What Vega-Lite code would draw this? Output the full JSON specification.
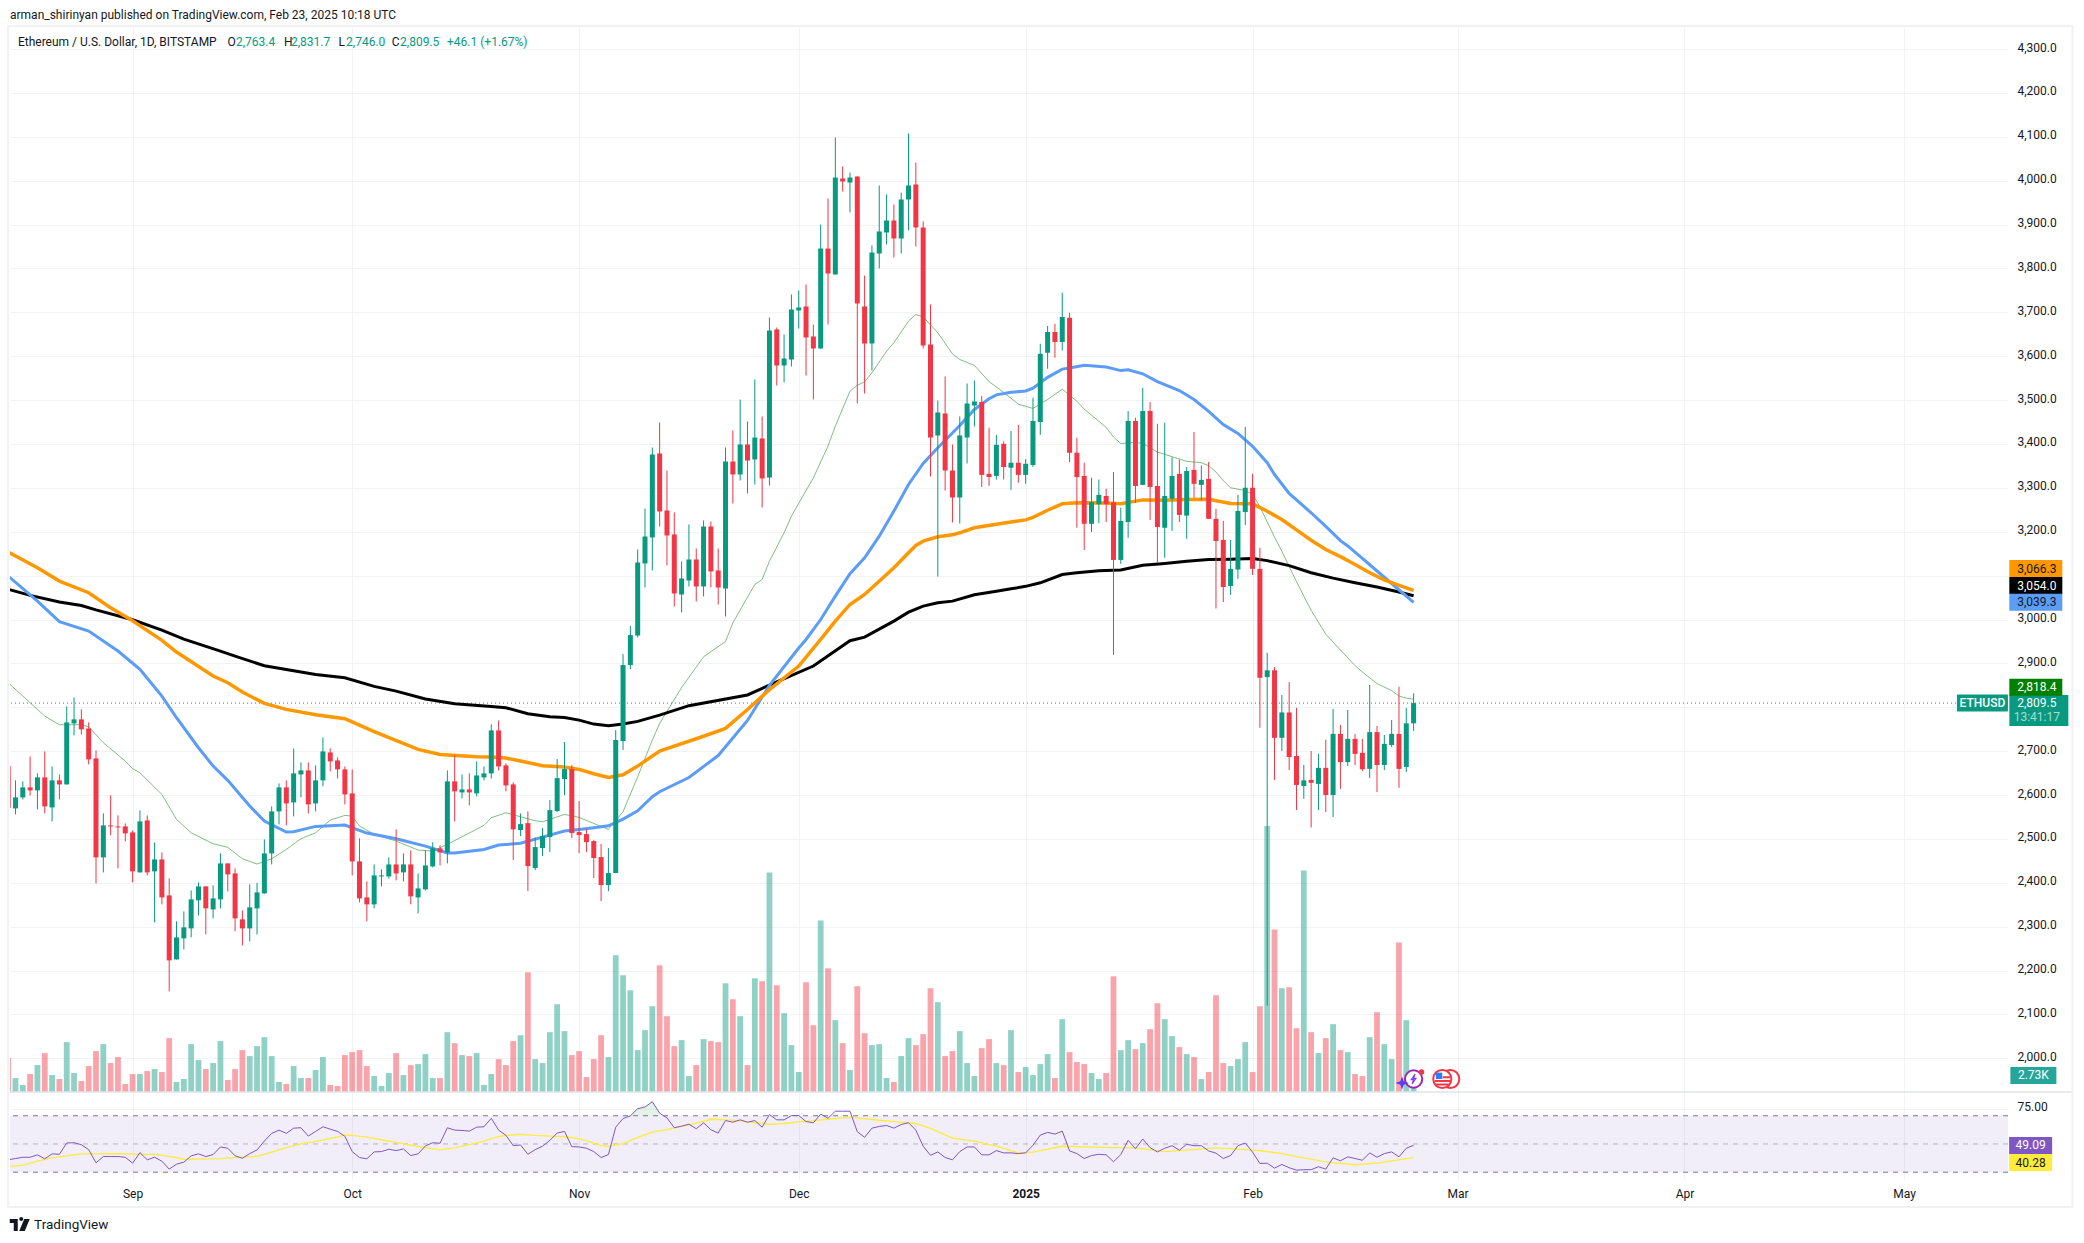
{
"$schema":"https://vega.github.io/schema/vega-lite/v6.json",
"width":1998,"height":1153,
"padding":{"left":10,"top":27,"right":76,"bottom":63},
"autosize":{"type":"none"},
"background":"white",
"config":{"view":{"stroke":null},"font":"Roboto","text":{"font":"Roboto","fontSize":12},"axis":{"labelFont":"Roboto"}},
"datasets":{
"candles":[
{"date":"2024-08-15","o":2666,"h":2680,"l":2520,"c":2571,"v":13566,"rsi":38.8},
{"date":"2024-08-16","o":2569.5,"h":2633.4,"l":2555.9,"c":2594.6,"v":5586,"rsi":39.7},
{"date":"2024-08-17","o":2594.6,"h":2631.1,"l":2590,"c":2617.4,"v":2793,"rsi":40.6},
{"date":"2024-08-18","o":2617.4,"h":2688,"l":2599.2,"c":2610.6,"v":7182,"rsi":40.6},
{"date":"2024-08-19","o":2610.6,"h":2649.3,"l":2567.3,"c":2640.2,"v":10773,"rsi":42.3},
{"date":"2024-08-20","o":2640.2,"h":2699.4,"l":2558.2,"c":2574.1,"v":15561,"rsi":39.5},
{"date":"2024-08-21","o":2571.8,"h":2665.2,"l":2539.9,"c":2633.4,"v":6783,"rsi":43},
{"date":"2024-08-22","o":2633.4,"h":2647,"l":2590,"c":2624.2,"v":5187,"rsi":42.7},
{"date":"2024-08-23","o":2624.2,"h":2802,"l":2624,"c":2765.5,"v":19950,"rsi":50.7},
{"date":"2024-08-24","o":2763.2,"h":2822.5,"l":2735.9,"c":2772.4,"v":7581,"rsi":50.9},
{"date":"2024-08-25","o":2772.4,"h":2795.2,"l":2738.2,"c":2749.6,"v":4389,"rsi":49.5},
{"date":"2024-08-26","o":2751.8,"h":2765.5,"l":2669.8,"c":2681.2,"v":10374,"rsi":46},
{"date":"2024-08-27","o":2683.5,"h":2701.7,"l":2398.6,"c":2457.9,"v":16359,"rsi":36.7},
{"date":"2024-08-28","o":2457.9,"h":2558.2,"l":2423.7,"c":2530.8,"v":19152,"rsi":41.1},
{"date":"2024-08-29","o":2530.8,"h":2599.2,"l":2508,"c":2528.5,"v":11571,"rsi":41.1},
{"date":"2024-08-30","o":2528.5,"h":2553.6,"l":2432.8,"c":2526.2,"v":13965,"rsi":41.1},
{"date":"2024-08-31","o":2528.5,"h":2535.4,"l":2494.4,"c":2512.6,"v":3192,"rsi":40.6},
{"date":"2024-09-01","o":2514.9,"h":2519.4,"l":2400.9,"c":2426,"v":7182,"rsi":36.4},
{"date":"2024-09-02","o":2423.7,"h":2565,"l":2423.7,"c":2539.9,"v":7182,"rsi":43.9},
{"date":"2024-09-03","o":2542.2,"h":2553.6,"l":2416.9,"c":2423.7,"v":8379,"rsi":38.8},
{"date":"2024-09-04","o":2426,"h":2492,"l":2309.7,"c":2453.3,"v":9177,"rsi":40.6},
{"date":"2024-09-05","o":2453.3,"h":2469.3,"l":2350.8,"c":2366.7,"v":7980,"rsi":37.8},
{"date":"2024-09-06","o":2371.3,"h":2410,"l":2152.5,"c":2223.2,"v":21546,"rsi":32.2},
{"date":"2024-09-07","o":2225.4,"h":2312,"l":2225,"c":2275.6,"v":3990,"rsi":35.7},
{"date":"2024-09-08","o":2273.3,"h":2334.8,"l":2248.2,"c":2298.4,"v":5187,"rsi":37.1},
{"date":"2024-09-09","o":2296.1,"h":2382.7,"l":2275.6,"c":2362.2,"v":19152,"rsi":41.6},
{"date":"2024-09-10","o":2359.9,"h":2400.9,"l":2325.7,"c":2391.8,"v":12768,"rsi":43},
{"date":"2024-09-11","o":2391.8,"h":2391.8,"l":2282.4,"c":2341.7,"v":9177,"rsi":41.1},
{"date":"2024-09-12","o":2339.4,"h":2394.1,"l":2318.9,"c":2364.5,"v":11571,"rsi":42.5},
{"date":"2024-09-13","o":2362.2,"h":2467,"l":2341.7,"c":2444.2,"v":20349,"rsi":47.9},
{"date":"2024-09-14","o":2444.2,"h":2444.2,"l":2380.4,"c":2419.2,"v":4788,"rsi":47},
{"date":"2024-09-15","o":2421.4,"h":2432.8,"l":2289.3,"c":2318.9,"v":9177,"rsi":41.6},
{"date":"2024-09-16","o":2316.6,"h":2337.1,"l":2257.3,"c":2296.1,"v":16758,"rsi":39.9},
{"date":"2024-09-17","o":2296.1,"h":2396.4,"l":2266.4,"c":2344,"v":14364,"rsi":43.2},
{"date":"2024-09-18","o":2341.7,"h":2400,"l":2282.4,"c":2378.1,"v":18354,"rsi":45.8},
{"date":"2024-09-19","o":2375.9,"h":2498.9,"l":2375,"c":2467,"v":21945,"rsi":52.1},
{"date":"2024-09-20","o":2467,"h":2574.1,"l":2441.9,"c":2562.7,"v":14364,"rsi":57.5},
{"date":"2024-09-21","o":2562.7,"h":2626.5,"l":2533.1,"c":2617.4,"v":3990,"rsi":59.8},
{"date":"2024-09-22","o":2617.4,"h":2633.4,"l":2530.8,"c":2580.9,"v":3192,"rsi":57.5},
{"date":"2024-09-23","o":2583.2,"h":2706.3,"l":2551.3,"c":2649.3,"v":10374,"rsi":61.2},
{"date":"2024-09-24","o":2647,"h":2674.4,"l":2594.6,"c":2656.1,"v":5586,"rsi":61.5},
{"date":"2024-09-25","o":2656.1,"h":2674.4,"l":2558.2,"c":2578.7,"v":5586,"rsi":55.6},
{"date":"2024-09-26","o":2580.9,"h":2667.5,"l":2562.7,"c":2633.4,"v":8778,"rsi":58.9},
{"date":"2024-09-27","o":2633.4,"h":2731.3,"l":2619.7,"c":2699.4,"v":13965,"rsi":62.2},
{"date":"2024-09-28","o":2697.1,"h":2706.3,"l":2653.9,"c":2676.7,"v":2793,"rsi":60.5},
{"date":"2024-09-29","o":2678.9,"h":2685.8,"l":2637.9,"c":2658.4,"v":2394,"rsi":58.9},
{"date":"2024-09-30","o":2658.4,"h":2665.2,"l":2578.7,"c":2601.4,"v":14763,"rsi":55.4},
{"date":"2024-10-01","o":2603.7,"h":2658.4,"l":2416.9,"c":2448.8,"v":15960,"rsi":44.6},
{"date":"2024-10-02","o":2448.8,"h":2501.2,"l":2355.3,"c":2364.5,"v":16758,"rsi":40.4},
{"date":"2024-10-03","o":2366.7,"h":2403.2,"l":2312,"c":2350.8,"v":10374,"rsi":39.5},
{"date":"2024-10-04","o":2350.8,"h":2441.9,"l":2341.7,"c":2416.9,"v":6384,"rsi":44.4},
{"date":"2024-10-05","o":2414.6,"h":2430.5,"l":2391.8,"c":2416.9,"v":2394,"rsi":44.6},
{"date":"2024-10-06","o":2414.6,"h":2457.9,"l":2410,"c":2441.9,"v":7581,"rsi":46.3},
{"date":"2024-10-07","o":2441.9,"h":2521.7,"l":2405.5,"c":2421.4,"v":15561,"rsi":45.3},
{"date":"2024-10-08","o":2423.7,"h":2467,"l":2403.2,"c":2441.9,"v":6783,"rsi":46.5},
{"date":"2024-10-09","o":2441.9,"h":2473.8,"l":2350.8,"c":2369,"v":10773,"rsi":41.8},
{"date":"2024-10-10","o":2366.7,"h":2421.4,"l":2330.3,"c":2387.2,"v":11172,"rsi":43},
{"date":"2024-10-11","o":2385,"h":2473.8,"l":2382.7,"c":2439.6,"v":15162,"rsi":48.6},
{"date":"2024-10-12","o":2437.4,"h":2492,"l":2435.1,"c":2478.4,"v":5586,"rsi":50.9},
{"date":"2024-10-13","o":2478.4,"h":2485.2,"l":2439.6,"c":2469.3,"v":5586,"rsi":50.5},
{"date":"2024-10-14","o":2469.3,"h":2656.1,"l":2444.2,"c":2631.1,"v":23940,"rsi":61.5},
{"date":"2024-10-15","o":2631.1,"h":2690.3,"l":2539.9,"c":2608.3,"v":19551,"rsi":59.8},
{"date":"2024-10-16","o":2606,"h":2647,"l":2592.3,"c":2612.8,"v":14763,"rsi":59.6},
{"date":"2024-10-17","o":2612.8,"h":2649.3,"l":2576.4,"c":2606,"v":14364,"rsi":59.1},
{"date":"2024-10-18","o":2603.7,"h":2676.7,"l":2596.9,"c":2644.7,"v":15561,"rsi":61.9},
{"date":"2024-10-19","o":2640.2,"h":2665.2,"l":2633.4,"c":2649.3,"v":2793,"rsi":62.2},
{"date":"2024-10-20","o":2649.3,"h":2761,"l":2637.9,"c":2747.3,"v":7182,"rsi":68.2},
{"date":"2024-10-21","o":2747.3,"h":2770,"l":2656.1,"c":2665.2,"v":13167,"rsi":59.8},
{"date":"2024-10-22","o":2667.5,"h":2672.1,"l":2608.3,"c":2621.9,"v":10773,"rsi":56.1},
{"date":"2024-10-23","o":2624.2,"h":2628.8,"l":2452,"c":2521.7,"v":20349,"rsi":48.8},
{"date":"2024-10-24","o":2520.2,"h":2558.1,"l":2506.5,"c":2533.8,"v":22743,"rsi":49.3},
{"date":"2024-10-25","o":2536.1,"h":2562.7,"l":2381.1,"c":2438.1,"v":47880,"rsi":42.7},
{"date":"2024-10-26","o":2433.6,"h":2503.4,"l":2429,"c":2481.4,"v":13167,"rsi":46},
{"date":"2024-10-27","o":2479.1,"h":2524.7,"l":2460.9,"c":2506.5,"v":11571,"rsi":48.4},
{"date":"2024-10-28","o":2504.2,"h":2588.5,"l":2470,"c":2565.7,"v":23940,"rsi":52.6},
{"date":"2024-10-29","o":2563.4,"h":2681.9,"l":2561.2,"c":2638.6,"v":35112,"rsi":57.7},
{"date":"2024-10-30","o":2636.4,"h":2720.7,"l":2599.9,"c":2659.2,"v":24339,"rsi":58.9},
{"date":"2024-10-31","o":2659.2,"h":2668.3,"l":2501.9,"c":2513.3,"v":14763,"rsi":48.1},
{"date":"2024-11-01","o":2515.6,"h":2586.2,"l":2467.7,"c":2508.8,"v":16359,"rsi":47.9},
{"date":"2024-11-02","o":2511,"h":2522.4,"l":2470,"c":2492.8,"v":5985,"rsi":47},
{"date":"2024-11-03","o":2495,"h":2497.4,"l":2410.8,"c":2456.4,"v":13167,"rsi":44.6},
{"date":"2024-11-04","o":2458.6,"h":2488.3,"l":2358.4,"c":2394.8,"v":22743,"rsi":40.4},
{"date":"2024-11-05","o":2394.8,"h":2479.1,"l":2381.1,"c":2422.2,"v":13965,"rsi":42.5},
{"date":"2024-11-06","o":2422.2,"h":2748,"l":2422,"c":2725.2,"v":54663,"rsi":61.9},
{"date":"2024-11-07","o":2723,"h":2921.2,"l":2702.5,"c":2896.2,"v":46683,"rsi":68},
{"date":"2024-11-08","o":2896.2,"h":2985,"l":2887,"c":2964.5,"v":40698,"rsi":69.9},
{"date":"2024-11-09","o":2963.6,"h":3159.6,"l":2959,"c":3130,"v":16758,"rsi":75},
{"date":"2024-11-10","o":3127.7,"h":3253,"l":3073,"c":3189.2,"v":24738,"rsi":76.2},
{"date":"2024-11-11","o":3187,"h":3392,"l":3111.8,"c":3376.1,"v":34314,"rsi":79.9},
{"date":"2024-11-12","o":3378.4,"h":3449,"l":3212,"c":3246.2,"v":50673,"rsi":71.8},
{"date":"2024-11-13","o":3248.5,"h":3339.6,"l":3123.1,"c":3191.5,"v":30324,"rsi":68.5},
{"date":"2024-11-14","o":3193.8,"h":3244,"l":3029.7,"c":3059.3,"v":18354,"rsi":61.5},
{"date":"2024-11-15","o":3057,"h":3132.3,"l":3016,"c":3093.5,"v":20748,"rsi":62.6},
{"date":"2024-11-16","o":3089,"h":3216.6,"l":3075.3,"c":3136.8,"v":6384,"rsi":64},
{"date":"2024-11-17","o":3136.8,"h":3161.9,"l":3041.1,"c":3075.3,"v":10773,"rsi":60.8},
{"date":"2024-11-18","o":3075.3,"h":3225.7,"l":3052.5,"c":3212,"v":21147,"rsi":65},
{"date":"2024-11-19","o":3212,"h":3223.4,"l":3073,"c":3109.5,"v":20349,"rsi":60.1},
{"date":"2024-11-20","o":3111.8,"h":3161.9,"l":3034.3,"c":3073,"v":19950,"rsi":57.7},
{"date":"2024-11-21","o":3070.7,"h":3392,"l":3007,"c":3360.1,"v":43491,"rsi":66.6},
{"date":"2024-11-22","o":3360.1,"h":3430.8,"l":3264.4,"c":3330.5,"v":37107,"rsi":65.4},
{"date":"2024-11-23","o":3330.5,"h":3501.4,"l":3316.8,"c":3398.9,"v":30324,"rsi":67.1},
{"date":"2024-11-24","o":3398.9,"h":3451.3,"l":3287.2,"c":3362.4,"v":10773,"rsi":65.4},
{"date":"2024-11-25","o":3364.7,"h":3547,"l":3307.7,"c":3414.8,"v":45486,"rsi":66.6},
{"date":"2024-11-26","o":3412.6,"h":3462.7,"l":3255.3,"c":3321.4,"v":44289,"rsi":61.9},
{"date":"2024-11-27","o":3323.7,"h":3688.3,"l":3305.5,"c":3658.7,"v":87780,"rsi":70.8},
{"date":"2024-11-28","o":3661,"h":3665.5,"l":3533.3,"c":3578.9,"v":42693,"rsi":67.1},
{"date":"2024-11-29","o":3578.9,"h":3649.6,"l":3540.2,"c":3594.9,"v":31521,"rsi":67.1},
{"date":"2024-11-30","o":3592.6,"h":3740.7,"l":3576.6,"c":3706.5,"v":18753,"rsi":70.1},
{"date":"2024-12-01","o":3704.3,"h":3749.8,"l":3663.2,"c":3711.1,"v":7980,"rsi":70.1},
{"date":"2024-12-02","o":3713.4,"h":3763.5,"l":3556.1,"c":3642.7,"v":43890,"rsi":65.9},
{"date":"2024-12-03","o":3645,"h":3672.3,"l":3501.4,"c":3617.7,"v":26733,"rsi":65},
{"date":"2024-12-04","o":3617.7,"h":3900.2,"l":3617,"c":3845.5,"v":68628,"rsi":71.1},
{"date":"2024-12-05","o":3845.5,"h":3959.5,"l":3672.3,"c":3788.6,"v":49476,"rsi":68.2},
{"date":"2024-12-06","o":3786.3,"h":4098.5,"l":3786,"c":4007.3,"v":28728,"rsi":73.2},
{"date":"2024-12-07","o":4005,"h":4032.4,"l":3975.4,"c":3998.2,"v":19551,"rsi":73.2},
{"date":"2024-12-08","o":3995.9,"h":4018.7,"l":3927.6,"c":4007.3,"v":8778,"rsi":73.2},
{"date":"2024-12-09","o":4009.6,"h":4010,"l":3492.3,"c":3720.2,"v":42294,"rsi":58.7},
{"date":"2024-12-10","o":3713.4,"h":3784,"l":3515.1,"c":3629,"v":23541,"rsi":54.7},
{"date":"2024-12-11","o":3629,"h":3852.4,"l":3567.5,"c":3836.4,"v":18753,"rsi":61.2},
{"date":"2024-12-12","o":3834.1,"h":3989.1,"l":3800,"c":3884.3,"v":19152,"rsi":62.4},
{"date":"2024-12-13","o":3882,"h":3968.6,"l":3854.7,"c":3909.3,"v":5586,"rsi":63.1},
{"date":"2024-12-14","o":3909.3,"h":3945.8,"l":3825,"c":3868.3,"v":3990,"rsi":61.2},
{"date":"2024-12-15","o":3868.3,"h":3973.1,"l":3834.1,"c":3957.2,"v":14364,"rsi":63.8},
{"date":"2024-12-16","o":3957.2,"h":4107.6,"l":3886.6,"c":3989.1,"v":21546,"rsi":65},
{"date":"2024-12-17","o":3991.4,"h":4041.5,"l":3850.1,"c":3893.4,"v":18753,"rsi":59.8},
{"date":"2024-12-18","o":3893.4,"h":3907.1,"l":3617.7,"c":3624.5,"v":23142,"rsi":48.4},
{"date":"2024-12-19","o":3626.8,"h":3717.9,"l":3326,"c":3414.8,"v":41496,"rsi":42},
{"date":"2024-12-20","o":3419.4,"h":3499.2,"l":3098,"c":3471.8,"v":35910,"rsi":44.4},
{"date":"2024-12-21","o":3469.5,"h":3553.9,"l":3294,"c":3339.6,"v":14364,"rsi":40.4},
{"date":"2024-12-22","o":3339.6,"h":3398.9,"l":3221.2,"c":3278.1,"v":16359,"rsi":38.8},
{"date":"2024-12-23","o":3278.1,"h":3462.7,"l":3218.9,"c":3419.4,"v":24339,"rsi":44.6},
{"date":"2024-12-24","o":3414.8,"h":3537.9,"l":3355.6,"c":3492.3,"v":11571,"rsi":47.9},
{"date":"2024-12-25","o":3487.8,"h":3544.7,"l":3439.9,"c":3496.9,"v":6384,"rsi":47.9},
{"date":"2024-12-26","o":3495.7,"h":3509.5,"l":3301.9,"c":3329.6,"v":17556,"rsi":42.3},
{"date":"2024-12-27","o":3332,"h":3437,"l":3304.4,"c":3324.7,"v":21147,"rsi":42.3},
{"date":"2024-12-28","o":3327.2,"h":3420.8,"l":3319,"c":3398,"v":11571,"rsi":45.3},
{"date":"2024-12-29","o":3400.4,"h":3406.1,"l":3319,"c":3347.5,"v":10773,"rsi":43.7},
{"date":"2024-12-30","o":3345.9,"h":3429.7,"l":3295.4,"c":3357.3,"v":24738,"rsi":43.7},
{"date":"2024-12-31","o":3357.3,"h":3443.6,"l":3311.7,"c":3329.6,"v":7980,"rsi":43.2},
{"date":"2025-01-01","o":3329.6,"h":3365.4,"l":3309.2,"c":3354.8,"v":9975,"rsi":43.7},
{"date":"2025-01-02","o":3352.4,"h":3505.4,"l":3347.5,"c":3452.5,"v":6783,"rsi":49.1},
{"date":"2025-01-03","o":3450.1,"h":3628.4,"l":3420.8,"c":3605.6,"v":11172,"rsi":56.3},
{"date":"2025-01-04","o":3608,"h":3669,"l":3571.4,"c":3655.2,"v":15162,"rsi":58.2},
{"date":"2025-01-05","o":3655.2,"h":3674,"l":3596.6,"c":3632.4,"v":5586,"rsi":57},
{"date":"2025-01-06","o":3632.4,"h":3744.8,"l":3612.9,"c":3689.4,"v":29127,"rsi":59.1},
{"date":"2025-01-07","o":3687.8,"h":3699.2,"l":3358.9,"c":3380.1,"v":15960,"rsi":45.1},
{"date":"2025-01-08","o":3380.1,"h":3414.3,"l":3209.1,"c":3324.7,"v":11970,"rsi":43.2},
{"date":"2025-01-09","o":3327.2,"h":3357.3,"l":3158.6,"c":3218.1,"v":11172,"rsi":39.7},
{"date":"2025-01-10","o":3218.1,"h":3323.1,"l":3199.3,"c":3267.7,"v":7581,"rsi":41.8},
{"date":"2025-01-11","o":3262.8,"h":3319,"l":3219.7,"c":3284,"v":5187,"rsi":42.7},
{"date":"2025-01-12","o":3281.6,"h":3297.9,"l":3222.1,"c":3262.8,"v":7581,"rsi":42.3},
{"date":"2025-01-13","o":3266.9,"h":3336.1,"l":2919.3,"c":3135.8,"v":46284,"rsi":37.4},
{"date":"2025-01-14","o":3135.8,"h":3254.7,"l":3126.9,"c":3224.6,"v":16758,"rsi":42.5},
{"date":"2025-01-15","o":3222.1,"h":3475.3,"l":3186.3,"c":3452.5,"v":20748,"rsi":52.6},
{"date":"2025-01-16","o":3452.5,"h":3459.9,"l":3266.1,"c":3304.4,"v":17157,"rsi":46.7},
{"date":"2025-01-17","o":3306.8,"h":3528.2,"l":3306,"c":3475.3,"v":19551,"rsi":53.5},
{"date":"2025-01-18","o":3475.3,"h":3495.7,"l":3227,"c":3301.9,"v":25137,"rsi":47.4},
{"date":"2025-01-19","o":3304.4,"h":3446,"l":3128.5,"c":3210.7,"v":35511,"rsi":44.4},
{"date":"2025-01-20","o":3209.1,"h":3448.5,"l":3140.7,"c":3281.6,"v":29127,"rsi":47},
{"date":"2025-01-21","o":3275.1,"h":3369.5,"l":3201.8,"c":3327.2,"v":22344,"rsi":48.8},
{"date":"2025-01-22","o":3332,"h":3364.6,"l":3222.1,"c":3238.4,"v":17955,"rsi":45.6},
{"date":"2025-01-23","o":3236.8,"h":3347.5,"l":3183.9,"c":3338.5,"v":15162,"rsi":49.8},
{"date":"2025-01-24","o":3341,"h":3427.3,"l":3277.5,"c":3309.2,"v":13965,"rsi":48.8},
{"date":"2025-01-25","o":3306.8,"h":3350.8,"l":3271,"c":3318.2,"v":5187,"rsi":48.8},
{"date":"2025-01-26","o":3320.6,"h":3358.9,"l":3229.5,"c":3229.5,"v":7980,"rsi":45.1},
{"date":"2025-01-27","o":3229.5,"h":3252.3,"l":3025.1,"c":3179,"v":38703,"rsi":43.5},
{"date":"2025-01-28","o":3181.4,"h":3224.6,"l":3039.8,"c":3074,"v":11571,"rsi":39.7},
{"date":"2025-01-29","o":3076.4,"h":3181.4,"l":3056,"c":3115.5,"v":10374,"rsi":41.8},
{"date":"2025-01-30","o":3113.9,"h":3284,"l":3092.7,"c":3247.4,"v":13167,"rsi":48.8},
{"date":"2025-01-31","o":3244.9,"h":3438.7,"l":3215.6,"c":3300.3,"v":19950,"rsi":50.7},
{"date":"2025-02-01","o":3300.3,"h":3332,"l":3101.6,"c":3115.5,"v":7980,"rsi":44.2},
{"date":"2025-02-02","o":3115.5,"h":3163.5,"l":2753.2,"c":2867.2,"v":34314,"rsi":36.2},
{"date":"2025-02-03","o":2868.8,"h":2924.2,"l":2120,"c":2884.3,"v":106400,"rsi":36.4},
{"date":"2025-02-04","o":2884.3,"h":2891.6,"l":2634.4,"c":2730.4,"v":65037,"rsi":32.9},
{"date":"2025-02-05","o":2730.4,"h":2828.1,"l":2700.3,"c":2788.2,"v":41496,"rsi":35.5},
{"date":"2025-02-06","o":2788.2,"h":2857.4,"l":2657,"c":2686.4,"v":41895,"rsi":33.2},
{"date":"2025-02-07","o":2688.9,"h":2798.8,"l":2565.9,"c":2623,"v":25536,"rsi":31.5},
{"date":"2025-02-08","o":2620.5,"h":2668.5,"l":2591.2,"c":2633.5,"v":88578,"rsi":31.8},
{"date":"2025-02-09","o":2634.4,"h":2700.3,"l":2526.1,"c":2627.9,"v":23940,"rsi":31.8},
{"date":"2025-02-10","o":2625.4,"h":2693.8,"l":2565.9,"c":2662,"v":15561,"rsi":33.9},
{"date":"2025-02-11","o":2662,"h":2726.3,"l":2561,"c":2600.1,"v":21546,"rsi":32.2},
{"date":"2025-02-12","o":2600.1,"h":2796.4,"l":2549.7,"c":2739.4,"v":27132,"rsi":40.2},
{"date":"2025-02-13","o":2739.4,"h":2759.7,"l":2614,"c":2675,"v":16758,"rsi":38.1},
{"date":"2025-02-14","o":2675,"h":2793.9,"l":2666.1,"c":2728,"v":15960,"rsi":40.9},
{"date":"2025-02-15","o":2728,"h":2739.4,"l":2668.5,"c":2693.8,"v":7182,"rsi":39.7},
{"date":"2025-02-16","o":2696.2,"h":2728,"l":2654.7,"c":2658.8,"v":6384,"rsi":38.5},
{"date":"2025-02-17","o":2659.6,"h":2850.9,"l":2639.2,"c":2743.4,"v":21945,"rsi":43.7},
{"date":"2025-02-18","o":2743.4,"h":2757.3,"l":2606.7,"c":2668.5,"v":31920,"rsi":40.6},
{"date":"2025-02-19","o":2668.5,"h":2736.9,"l":2657,"c":2716.6,"v":19152,"rsi":43.2},
{"date":"2025-02-20","o":2714.1,"h":2771.1,"l":2709.2,"c":2739.4,"v":13167,"rsi":44.4},
{"date":"2025-02-21","o":2739.4,"h":2846.8,"l":2616.4,"c":2659.6,"v":59850,"rsi":40.9},
{"date":"2025-02-22","o":2664,"h":2798.8,"l":2652.3,"c":2763.4,"v":28728,"rsi":47},
{"date":"2025-02-23","o":2763.4,"h":2831.7,"l":2746,"c":2809.5,"v":2730,"rsi":49.09}
],
"ema":[
{"series":"EMA 20","date":"2024-08-15","price":2856},{"series":"EMA 20","date":"2024-08-18","price":2810.3},{"series":"EMA 20","date":"2024-08-20","price":2780},{"series":"EMA 20","date":"2024-08-22","price":2760.2},{"series":"EMA 20","date":"2024-08-25","price":2760.2},{"series":"EMA 20","date":"2024-08-26","price":2755.6},{"series":"EMA 20","date":"2024-08-28","price":2719.2},{"series":"EMA 20","date":"2024-08-31","price":2677.4},{"series":"EMA 20","date":"2024-09-01","price":2660},{"series":"EMA 20","date":"2024-09-02","price":2650.8},{"series":"EMA 20","date":"2024-09-05","price":2601.4},{"series":"EMA 20","date":"2024-09-07","price":2544.5},{"series":"EMA 20","date":"2024-09-09","price":2514},{"series":"EMA 20","date":"2024-09-12","price":2489},{"series":"EMA 20","date":"2024-09-14","price":2480.7},{"series":"EMA 20","date":"2024-09-16","price":2454.8},{"series":"EMA 20","date":"2024-09-18","price":2442.7},{"series":"EMA 20","date":"2024-09-20","price":2454.8},{"series":"EMA 20","date":"2024-09-22","price":2476.1},{"series":"EMA 20","date":"2024-09-24","price":2500.4},{"series":"EMA 20","date":"2024-09-26","price":2514},{"series":"EMA 20","date":"2024-09-28","price":2543},{"series":"EMA 20","date":"2024-09-30","price":2553.6},{"series":"EMA 20","date":"2024-10-01","price":2552},{"series":"EMA 20","date":"2024-10-02","price":2529.3},{"series":"EMA 20","date":"2024-10-04","price":2510.3},{"series":"EMA 20","date":"2024-10-07","price":2495.1},{"series":"EMA 20","date":"2024-10-10","price":2474.6},{"series":"EMA 20","date":"2024-10-12","price":2472.3},{"series":"EMA 20","date":"2024-10-14","price":2487.5},{"series":"EMA 20","date":"2024-10-19","price":2530.8},{"series":"EMA 20","date":"2024-10-20","price":2548.3},{"series":"EMA 20","date":"2024-10-22","price":2559.7},{"series":"EMA 20","date":"2024-10-24","price":2550.5},{"series":"EMA 20","date":"2024-10-26","price":2541.4},{"series":"EMA 20","date":"2024-10-27","price":2539.2},{"series":"EMA 20","date":"2024-10-28","price":2544.5},{"series":"EMA 20","date":"2024-10-30","price":2555.9},{"series":"EMA 20","date":"2024-11-01","price":2549},{"series":"EMA 20","date":"2024-11-03","price":2535.3},{"series":"EMA 20","date":"2024-11-05","price":2521.7},{"series":"EMA 20","date":"2024-11-07","price":2562},{"series":"EMA 20","date":"2024-11-09","price":2641.7},{"series":"EMA 20","date":"2024-11-11","price":2725.2},{"series":"EMA 20","date":"2024-11-12","price":2763.2},{"series":"EMA 20","date":"2024-11-15","price":2845},{"series":"EMA 20","date":"2024-11-18","price":2915},{"series":"EMA 20","date":"2024-11-21","price":2950},{"series":"EMA 20","date":"2024-11-22","price":2992.5},{"series":"EMA 20","date":"2024-11-25","price":3079.8},{"series":"EMA 20","date":"2024-11-26","price":3091.3},{"series":"EMA 20","date":"2024-11-27","price":3133},{"series":"EMA 20","date":"2024-11-29","price":3197.6},{"series":"EMA 20","date":"2024-11-30","price":3235.5},{"series":"EMA 20","date":"2024-12-03","price":3322.9},{"series":"EMA 20","date":"2024-12-05","price":3395.1},{"series":"EMA 20","date":"2024-12-06","price":3440.7},{"series":"EMA 20","date":"2024-12-08","price":3520.4},{"series":"EMA 20","date":"2024-12-09","price":3534},{"series":"EMA 20","date":"2024-12-10","price":3541.7},{"series":"EMA 20","date":"2024-12-11","price":3562.2},{"series":"EMA 20","date":"2024-12-13","price":3611.6},{"series":"EMA 20","date":"2024-12-14","price":3630.6},{"series":"EMA 20","date":"2024-12-16","price":3680},{"series":"EMA 20","date":"2024-12-17","price":3695.1},{"series":"EMA 20","date":"2024-12-18","price":3689.8},{"series":"EMA 20","date":"2024-12-20","price":3653.4},{"series":"EMA 20","date":"2024-12-22","price":3605.5},{"series":"EMA 20","date":"2024-12-23","price":3592.6},{"series":"EMA 20","date":"2024-12-25","price":3578.9},{"series":"EMA 20","date":"2024-12-27","price":3542.1},{"series":"EMA 20","date":"2024-12-29","price":3517.7},{"series":"EMA 20","date":"2024-12-31","price":3490.8},{"series":"EMA 20","date":"2025-01-02","price":3481},{"series":"EMA 20","date":"2025-01-04","price":3501.4},{"series":"EMA 20","date":"2025-01-06","price":3525},{"series":"EMA 20","date":"2025-01-08","price":3497.3},{"series":"EMA 20","date":"2025-01-09","price":3479.4},{"series":"EMA 20","date":"2025-01-12","price":3437.9},{"series":"EMA 20","date":"2025-01-13","price":3415.9},{"series":"EMA 20","date":"2025-01-14","price":3401.2},{"series":"EMA 20","date":"2025-01-16","price":3403.7},{"series":"EMA 20","date":"2025-01-17","price":3401.2},{"series":"EMA 20","date":"2025-01-19","price":3381.7},{"series":"EMA 20","date":"2025-01-21","price":3371.1},{"series":"EMA 20","date":"2025-01-23","price":3360.5},{"series":"EMA 20","date":"2025-01-25","price":3357.3},{"series":"EMA 20","date":"2025-01-26","price":3350.8},{"series":"EMA 20","date":"2025-01-27","price":3336.1},{"series":"EMA 20","date":"2025-01-28","price":3316.6},{"series":"EMA 20","date":"2025-01-29","price":3300.3},{"series":"EMA 20","date":"2025-01-31","price":3293.8},{"series":"EMA 20","date":"2025-02-01","price":3285.6},{"series":"EMA 20","date":"2025-02-02","price":3257.1},{"series":"EMA 20","date":"2025-02-04","price":3187.9},{"series":"EMA 20","date":"2025-02-05","price":3155.4},{"series":"EMA 20","date":"2025-02-07","price":3086.2},{"series":"EMA 20","date":"2025-02-09","price":3021},{"series":"EMA 20","date":"2025-02-11","price":2966.5},{"series":"EMA 20","date":"2025-02-13","price":2930.7},{"series":"EMA 20","date":"2025-02-15","price":2894.9},{"series":"EMA 20","date":"2025-02-16","price":2880.2},{"series":"EMA 20","date":"2025-02-18","price":2854.1},{"series":"EMA 20","date":"2025-02-20","price":2837.9},{"series":"EMA 20","date":"2025-02-21","price":2825.7},{"series":"EMA 20","date":"2025-02-22","price":2820.8},{"series":"EMA 20","date":"2025-02-23","price":2818.4},
{"series":"EMA 200","date":"2024-08-15","price":3069},{"series":"EMA 200","date":"2024-08-18","price":3055},{"series":"EMA 200","date":"2024-08-22","price":3040},{"series":"EMA 200","date":"2024-08-25","price":3032},{"series":"EMA 200","date":"2024-08-27","price":3022},{"series":"EMA 200","date":"2024-09-01","price":2999.5},{"series":"EMA 200","date":"2024-09-05","price":2976},{"series":"EMA 200","date":"2024-09-08","price":2955.4},{"series":"EMA 200","date":"2024-09-13","price":2928},{"series":"EMA 200","date":"2024-09-15","price":2916.7},{"series":"EMA 200","date":"2024-09-19","price":2894.7},{"series":"EMA 200","date":"2024-09-23","price":2883.3},{"series":"EMA 200","date":"2024-09-26","price":2874.9},{"series":"EMA 200","date":"2024-09-30","price":2867.3},{"series":"EMA 200","date":"2024-10-04","price":2847.6},{"series":"EMA 200","date":"2024-10-07","price":2836.9},{"series":"EMA 200","date":"2024-10-11","price":2818.7},{"series":"EMA 200","date":"2024-10-15","price":2808},{"series":"EMA 200","date":"2024-10-20","price":2802},{"series":"EMA 200","date":"2024-10-22","price":2799},{"series":"EMA 200","date":"2024-10-25","price":2785.2},{"series":"EMA 200","date":"2024-10-28","price":2778.4},{"series":"EMA 200","date":"2024-10-30","price":2776.9},{"series":"EMA 200","date":"2024-11-01","price":2770.8},{"series":"EMA 200","date":"2024-11-03","price":2761.7},{"series":"EMA 200","date":"2024-11-05","price":2757.9},{"series":"EMA 200","date":"2024-11-07","price":2761.7},{"series":"EMA 200","date":"2024-11-09","price":2767.8},{"series":"EMA 200","date":"2024-11-12","price":2782.2},{"series":"EMA 200","date":"2024-11-16","price":2803.7},{"series":"EMA 200","date":"2024-11-24","price":2828},{"series":"EMA 200","date":"2024-11-28","price":2858},{"series":"EMA 200","date":"2024-12-03","price":2894},{"series":"EMA 200","date":"2024-12-08","price":2951.7},{"series":"EMA 200","date":"2024-12-10","price":2959.8},{"series":"EMA 200","date":"2024-12-14","price":2996.3},{"series":"EMA 200","date":"2024-12-16","price":3016.8},{"series":"EMA 200","date":"2024-12-18","price":3030.5},{"series":"EMA 200","date":"2024-12-20","price":3038},{"series":"EMA 200","date":"2024-12-22","price":3041.9},{"series":"EMA 200","date":"2024-12-25","price":3056.3},{"series":"EMA 200","date":"2024-12-28","price":3064.2},{"series":"EMA 200","date":"2024-12-30","price":3069.9},{"series":"EMA 200","date":"2025-01-01","price":3075.6},{"series":"EMA 200","date":"2025-01-03","price":3083.7},{"series":"EMA 200","date":"2025-01-06","price":3102.5},{"series":"EMA 200","date":"2025-01-08","price":3106.5},{"series":"EMA 200","date":"2025-01-11","price":3111.4},{"series":"EMA 200","date":"2025-01-14","price":3113},{"series":"EMA 200","date":"2025-01-17","price":3123.6},{"series":"EMA 200","date":"2025-01-20","price":3127.7},{"series":"EMA 200","date":"2025-01-23","price":3132.6},{"series":"EMA 200","date":"2025-01-26","price":3136.7},{"series":"EMA 200","date":"2025-01-29","price":3137.5},{"series":"EMA 200","date":"2025-02-01","price":3139.1},{"series":"EMA 200","date":"2025-02-03","price":3134.2},{"series":"EMA 200","date":"2025-02-06","price":3122.8},{"series":"EMA 200","date":"2025-02-09","price":3106.5},{"series":"EMA 200","date":"2025-02-12","price":3094.3},{"series":"EMA 200","date":"2025-02-15","price":3083.7},{"series":"EMA 200","date":"2025-02-18","price":3074},{"series":"EMA 200","date":"2025-02-21","price":3062.6},{"series":"EMA 200","date":"2025-02-23","price":3054},
{"series":"EMA 50","date":"2024-08-15","price":3099},{"series":"EMA 50","date":"2024-08-19","price":3042},{"series":"EMA 50","date":"2024-08-22","price":2995},{"series":"EMA 50","date":"2024-08-26","price":2973.7},{"series":"EMA 50","date":"2024-08-30","price":2928.1},{"series":"EMA 50","date":"2024-09-02","price":2886.3},{"series":"EMA 50","date":"2024-09-05","price":2825.5},{"series":"EMA 50","date":"2024-09-07","price":2776.2},{"series":"EMA 50","date":"2024-09-10","price":2707.8},{"series":"EMA 50","date":"2024-09-12","price":2666},{"series":"EMA 50","date":"2024-09-14","price":2633.4},{"series":"EMA 50","date":"2024-09-17","price":2574.9},{"series":"EMA 50","date":"2024-09-19","price":2540.7},{"series":"EMA 50","date":"2024-09-22","price":2515.6},{"series":"EMA 50","date":"2024-09-23","price":2516.4},{"series":"EMA 50","date":"2024-09-26","price":2528.5},{"series":"EMA 50","date":"2024-09-30","price":2531.6},{"series":"EMA 50","date":"2024-10-03","price":2513.3},{"series":"EMA 50","date":"2024-10-07","price":2500.4},{"series":"EMA 50","date":"2024-10-11","price":2483.7},{"series":"EMA 50","date":"2024-10-14","price":2467.8},{"series":"EMA 50","date":"2024-10-15","price":2467.8},{"series":"EMA 50","date":"2024-10-19","price":2476.1},{"series":"EMA 50","date":"2024-10-21","price":2486},{"series":"EMA 50","date":"2024-10-24","price":2490},{"series":"EMA 50","date":"2024-10-27","price":2504.2},{"series":"EMA 50","date":"2024-10-30","price":2517.9},{"series":"EMA 50","date":"2024-11-01","price":2521.7},{"series":"EMA 50","date":"2024-11-03","price":2525.5},{"series":"EMA 50","date":"2024-11-05","price":2530},{"series":"EMA 50","date":"2024-11-07","price":2545.2},{"series":"EMA 50","date":"2024-11-09","price":2564.2},{"series":"EMA 50","date":"2024-11-11","price":2596.1},{"series":"EMA 50","date":"2024-11-12","price":2607.5},{"series":"EMA 50","date":"2024-11-16","price":2640},{"series":"EMA 50","date":"2024-11-20","price":2690},{"series":"EMA 50","date":"2024-11-24","price":2770},{"series":"EMA 50","date":"2024-11-27","price":2850},{"series":"EMA 50","date":"2024-12-01","price":2935},{"series":"EMA 50","date":"2024-12-02","price":2954.5},{"series":"EMA 50","date":"2024-12-04","price":3000},{"series":"EMA 50","date":"2024-12-06","price":3053.3},{"series":"EMA 50","date":"2024-12-08","price":3104.2},{"series":"EMA 50","date":"2024-12-10","price":3140.6},{"series":"EMA 50","date":"2024-12-12","price":3190},{"series":"EMA 50","date":"2024-12-14","price":3247},{"series":"EMA 50","date":"2024-12-16","price":3307.7},{"series":"EMA 50","date":"2024-12-18","price":3355.6},{"series":"EMA 50","date":"2024-12-20","price":3391.3},{"series":"EMA 50","date":"2024-12-23","price":3442.2},{"series":"EMA 50","date":"2024-12-25","price":3478.7},{"series":"EMA 50","date":"2024-12-27","price":3503},{"series":"EMA 50","date":"2024-12-28","price":3512},{"series":"EMA 50","date":"2024-12-30","price":3517.7},{"series":"EMA 50","date":"2025-01-01","price":3520.9},{"series":"EMA 50","date":"2025-01-02","price":3527.4},{"series":"EMA 50","date":"2025-01-04","price":3551.8},{"series":"EMA 50","date":"2025-01-06","price":3570.6},{"series":"EMA 50","date":"2025-01-07","price":3573},{"series":"EMA 50","date":"2025-01-09","price":3579.5},{"series":"EMA 50","date":"2025-01-12","price":3575.5},{"series":"EMA 50","date":"2025-01-14","price":3567.3},{"series":"EMA 50","date":"2025-01-15","price":3568.9},{"series":"EMA 50","date":"2025-01-17","price":3560},{"series":"EMA 50","date":"2025-01-19","price":3542},{"series":"EMA 50","date":"2025-01-22","price":3521.7},{"series":"EMA 50","date":"2025-01-24","price":3501.4},{"series":"EMA 50","date":"2025-01-26","price":3474.5},{"series":"EMA 50","date":"2025-01-28","price":3444.4},{"series":"EMA 50","date":"2025-01-30","price":3424},{"series":"EMA 50","date":"2025-02-01","price":3394.7},{"series":"EMA 50","date":"2025-02-03","price":3357.3},{"series":"EMA 50","date":"2025-02-04","price":3330.4},{"series":"EMA 50","date":"2025-02-06","price":3287.3},{"series":"EMA 50","date":"2025-02-09","price":3243.3},{"series":"EMA 50","date":"2025-02-11","price":3212.4},{"series":"EMA 50","date":"2025-02-13","price":3179.8},{"series":"EMA 50","date":"2025-02-14","price":3167.6},{"series":"EMA 50","date":"2025-02-16","price":3139.1},{"series":"EMA 50","date":"2025-02-18","price":3110.6},{"series":"EMA 50","date":"2025-02-20","price":3082.1},{"series":"EMA 50","date":"2025-02-23","price":3039.3},
{"series":"EMA 100","date":"2024-08-15","price":3153.7},{"series":"EMA 100","date":"2024-08-19","price":3118},{"series":"EMA 100","date":"2024-08-22","price":3087.6},{"series":"EMA 100","date":"2024-08-26","price":3061},{"series":"EMA 100","date":"2024-08-29","price":3026.8},{"series":"EMA 100","date":"2024-09-01","price":2997.2},{"series":"EMA 100","date":"2024-09-05","price":2952.4},{"series":"EMA 100","date":"2024-09-07","price":2925.8},{"series":"EMA 100","date":"2024-09-12","price":2871.1},{"series":"EMA 100","date":"2024-09-14","price":2855.9},{"series":"EMA 100","date":"2024-09-16","price":2834.6},{"series":"EMA 100","date":"2024-09-19","price":2808.8},{"series":"EMA 100","date":"2024-09-22","price":2795.2},{"series":"EMA 100","date":"2024-09-26","price":2783},{"series":"EMA 100","date":"2024-09-30","price":2773.9},{"series":"EMA 100","date":"2024-10-04","price":2744.3},{"series":"EMA 100","date":"2024-10-10","price":2704},{"series":"EMA 100","date":"2024-10-13","price":2692.6},{"series":"EMA 100","date":"2024-10-18","price":2687.3},{"series":"EMA 100","date":"2024-10-20","price":2686.5},{"series":"EMA 100","date":"2024-10-22","price":2684.2},{"series":"EMA 100","date":"2024-10-24","price":2677.4},{"series":"EMA 100","date":"2024-10-27","price":2666.8},{"series":"EMA 100","date":"2024-10-30","price":2663.7},{"series":"EMA 100","date":"2024-11-01","price":2658.4},{"series":"EMA 100","date":"2024-11-03","price":2648.5},{"series":"EMA 100","date":"2024-11-05","price":2640.2},{"series":"EMA 100","date":"2024-11-07","price":2646.2},{"series":"EMA 100","date":"2024-11-09","price":2666},{"series":"EMA 100","date":"2024-11-12","price":2700.2},{"series":"EMA 100","date":"2024-11-18","price":2734},{"series":"EMA 100","date":"2024-11-21","price":2752},{"series":"EMA 100","date":"2024-11-24","price":2795},{"series":"EMA 100","date":"2024-11-27","price":2840},{"series":"EMA 100","date":"2024-12-01","price":2894},{"series":"EMA 100","date":"2024-12-04","price":2954.5},{"series":"EMA 100","date":"2024-12-06","price":2996.3},{"series":"EMA 100","date":"2024-12-08","price":3034.3},{"series":"EMA 100","date":"2024-12-10","price":3057.1},{"series":"EMA 100","date":"2024-12-13","price":3102.6},{"series":"EMA 100","date":"2024-12-14","price":3117.8},{"series":"EMA 100","date":"2024-12-16","price":3152},{"series":"EMA 100","date":"2024-12-17","price":3168.7},{"series":"EMA 100","date":"2024-12-18","price":3178.6},{"series":"EMA 100","date":"2024-12-20","price":3188.5},{"series":"EMA 100","date":"2024-12-22","price":3193},{"series":"EMA 100","date":"2024-12-23","price":3197.6},{"series":"EMA 100","date":"2024-12-25","price":3209},{"series":"EMA 100","date":"2024-12-28","price":3217.2},{"series":"EMA 100","date":"2024-12-30","price":3222.1},{"series":"EMA 100","date":"2025-01-01","price":3227},{"series":"EMA 100","date":"2025-01-02","price":3232.7},{"series":"EMA 100","date":"2025-01-04","price":3249},{"series":"EMA 100","date":"2025-01-06","price":3263.7},{"series":"EMA 100","date":"2025-01-08","price":3266.1},{"series":"EMA 100","date":"2025-01-12","price":3265.3},{"series":"EMA 100","date":"2025-01-14","price":3263.7},{"series":"EMA 100","date":"2025-01-17","price":3272.6},{"series":"EMA 100","date":"2025-01-20","price":3271.8},{"series":"EMA 100","date":"2025-01-23","price":3273.4},{"series":"EMA 100","date":"2025-01-26","price":3274.2},{"series":"EMA 100","date":"2025-01-29","price":3264.5},{"series":"EMA 100","date":"2025-02-01","price":3263.7},{"series":"EMA 100","date":"2025-02-03","price":3246.6},{"series":"EMA 100","date":"2025-02-05","price":3227.8},{"series":"EMA 100","date":"2025-02-07","price":3204.2},{"series":"EMA 100","date":"2025-02-09","price":3180.6},{"series":"EMA 100","date":"2025-02-11","price":3159.4},{"series":"EMA 100","date":"2025-02-13","price":3143.2},{"series":"EMA 100","date":"2025-02-15","price":3125.3},{"series":"EMA 100","date":"2025-02-17","price":3106.5},{"series":"EMA 100","date":"2025-02-19","price":3090.3},{"series":"EMA 100","date":"2025-02-21","price":3078},{"series":"EMA 100","date":"2025-02-23","price":3066.3}
],
"rsiMa":[
{"date":"2024-08-15","rsi":34.1},{"date":"2024-08-17","rsi":34.8},{"date":"2024-08-19","rsi":37.8},{"date":"2024-08-21","rsi":40.2},{"date":"2024-08-23","rsi":41.6},{"date":"2024-08-25","rsi":43},{"date":"2024-08-27","rsi":43},{"date":"2024-08-30","rsi":43.2},{"date":"2024-09-02","rsi":42.7},{"date":"2024-09-04","rsi":42.7},{"date":"2024-09-06","rsi":41.3},{"date":"2024-09-08","rsi":39.2},{"date":"2024-09-11","rsi":39.5},{"date":"2024-09-13","rsi":39.7},{"date":"2024-09-15","rsi":40.4},{"date":"2024-09-18","rsi":41.3},{"date":"2024-09-20","rsi":44.2},{"date":"2024-09-22","rsi":47.4},{"date":"2024-09-24","rsi":50},{"date":"2024-09-27","rsi":52.8},{"date":"2024-09-29","rsi":55.1},{"date":"2024-09-30","rsi":56.3},{"date":"2024-10-01","rsi":56.1},{"date":"2024-10-03","rsi":54.9},{"date":"2024-10-05","rsi":53},{"date":"2024-10-07","rsi":51.2},{"date":"2024-10-09","rsi":49.1},{"date":"2024-10-11","rsi":47.4},{"date":"2024-10-13","rsi":45.8},{"date":"2024-10-15","rsi":47.2},{"date":"2024-10-17","rsi":49.5},{"date":"2024-10-19","rsi":52.1},{"date":"2024-10-21","rsi":55.4},{"date":"2024-10-23","rsi":56.5},{"date":"2024-10-24","rsi":56.8},{"date":"2024-10-26","rsi":56.1},{"date":"2024-10-29","rsi":55.4},{"date":"2024-10-31","rsi":54.7},{"date":"2024-11-02","rsi":52.3},{"date":"2024-11-04","rsi":48.8},{"date":"2024-11-05","rsi":48.4},{"date":"2024-11-07","rsi":50.2},{"date":"2024-11-09","rsi":54.7},{"date":"2024-11-11","rsi":58.4},{"date":"2024-11-13","rsi":60.1},{"date":"2024-11-15","rsi":62.4},{"date":"2024-11-17","rsi":64.7},{"date":"2024-11-19","rsi":67.5},{"date":"2024-11-21","rsi":67.1},{"date":"2024-11-23","rsi":66.4},{"date":"2024-11-25","rsi":65.2},{"date":"2024-11-27","rsi":63.8},{"date":"2024-11-29","rsi":64.5},{"date":"2024-12-01","rsi":65.7},{"date":"2024-12-03","rsi":66.6},{"date":"2024-12-05","rsi":67.5},{"date":"2024-12-07","rsi":68.5},{"date":"2024-12-08","rsi":68.9},{"date":"2024-12-10","rsi":68},{"date":"2024-12-12","rsi":66.8},{"date":"2024-12-14","rsi":65.9},{"date":"2024-12-17","rsi":64.5},{"date":"2024-12-19","rsi":61},{"date":"2024-12-21","rsi":56.5},{"date":"2024-12-22","rsi":54.2},{"date":"2024-12-25","rsi":52.1},{"date":"2024-12-28","rsi":48.4},{"date":"2024-12-31","rsi":43.7},{"date":"2025-01-02","rsi":44.2},{"date":"2025-01-03","rsi":45.3},{"date":"2025-01-06","rsi":48.4},{"date":"2025-01-09","rsi":47.9},{"date":"2025-01-13","rsi":47.4},{"date":"2025-01-16","rsi":47.2},{"date":"2025-01-20","rsi":44.6},{"date":"2025-01-23","rsi":45.6},{"date":"2025-01-27","rsi":47.2},{"date":"2025-01-29","rsi":46.7},{"date":"2025-02-02","rsi":45.3},{"date":"2025-02-05","rsi":43.2},{"date":"2025-02-08","rsi":40.2},{"date":"2025-02-11","rsi":37.4},{"date":"2025-02-15","rsi":35.3},{"date":"2025-02-18","rsi":36.4},{"date":"2025-02-23","rsi":40.28}
],
"rsiLevels":[{"level":70,"kind":"bound"},{"level":50,"kind":"mid"},{"level":30,"kind":"bound"}],
"rsiBand":[{"upper":70,"lower":30}],
"lastPrice":[{"price":2809.5}],
"priceTags":[
{"date":"2025-05-19","price":3066.3,"label":"3,066.3","series":"EMA 100"},
{"date":"2025-05-19","price":3054.0,"label":"3,054.0","series":"EMA 200"},
{"date":"2025-05-19","price":3039.3,"label":"3,039.3","series":"EMA 50"},
{"date":"2025-05-19","price":2818.4,"label":"2,818.4","series":"EMA 20"}
],
"lastTag":[{"date":"2025-05-19T10:00:00Z","price":2809.5,"label":"2,809.5","countdown":"13:41:17"}],
"symbolTag":[{"date":"2025-05-11T17:00:00Z","price":2809.5,"label":"ETHUSD"}],
"volTag":[{"date":"2025-05-18T16:00:00Z","v":2730,"label":"2.73K"}],
"rsiTags":[
{"date":"2025-05-18T07:00:00Z","rsi":49.09,"label":"49.09","series":"RSI"},
{"date":"2025-05-18T07:00:00Z","rsi":40.28,"label":"40.28","series":"RSI MA"}
],
"header":[
{"date":"2024-08-15T06:00:00Z","price":4378,"text":"arman_shirinyan published on TradingView.com, Feb 23, 2025 10:18 UTC","kind":"label"},
{"date":"2024-08-16T08:00:00Z","price":4317,"text":"Ethereum / U.S. Dollar, 1D, BITSTAMP","kind":"label"},
{"date":"2024-09-13T23:00:00Z","price":4317,"text":"O","kind":"label"},
{"date":"2024-09-15T03:00:00Z","price":4317,"text":"2,763.4","kind":"value"},
{"date":"2024-09-21T16:00:00Z","price":4317,"text":"H","kind":"label"},
{"date":"2024-09-22T15:00:00Z","price":4317,"text":"2,831.7","kind":"value"},
{"date":"2024-09-29T03:00:00Z","price":4317,"text":"L","kind":"label"},
{"date":"2024-09-30T04:00:00Z","price":4317,"text":"2,746.0","kind":"value"},
{"date":"2024-10-06T10:00:00Z","price":4317,"text":"C","kind":"label"},
{"date":"2024-10-07T13:00:00Z","price":4317,"text":"2,809.5","kind":"value"},
{"date":"2024-10-13T23:00:00Z","price":4317,"text":"+46.1 (+1.67%)","kind":"value"}
],
"footer":[{"date":"2024-08-18T13:00:00Z","price":1620,"text":"TradingView"}],
"logo":[{"date":"2024-08-16T14:00:00Z","price":1620}],
"frame":[{"date":"2024-08-15T00:00:00Z","date2":"2025-05-24T00:00:00Z","price":4352.6,"price2":1661}],
"separator":[{"date":"2024-08-15T06:00:00Z","date2":"2025-05-24T00:00:00Z","v":0}],
"events":[
{"date":"2025-02-23T00:00:00Z","v":5200,"event":"ring"},
{"date":"2025-02-21T10:00:00Z","v":3600,"event":"star"},
{"date":"2025-02-24T02:00:00Z","v":8000,"event":"dot"},
{"date":"2025-02-28T00:00:00Z","v":5200,"event":"flagBack"},
{"date":"2025-02-26T22:00:00Z","v":5200,"event":"flagFront"}
]
},
"encoding":{
"x":{"field":"date","type":"temporal","title":null,
"scale":{"type":"utc","domain":[1723701686000,1747284480000],"nice":false,"padding":0},
"axis":{"values":[1725148800000,1727740800000,1730419200000,1733011200000,1735689600000,1738368000000,1740787200000,1743465600000,1746057600000],
"labelExpr":"utcmonth(datum.value)==0?'2025':utcFormat(datum.value,'%b')",
"labelFont":"Roboto","labelFontSize":12,"labelColor":"#131722","labelPadding":8,"domain":false,"ticks":false,"grid":true,"gridColor":"#f2f3f6","gridWidth":1,"labelOverlap":false,"labelFlush":false,
"labelFontWeight":{"condition":{"test":"utcmonth(datum.value)==0","value":"bold"},"value":"normal"}}}
},
"layer":[
{"layer":[
{"data":{"name":"candles"},"mark":{"type":"bar","width":5.8,"opacity":0.45,"clip":true},
"encoding":{"y":{"field":"v","type":"quantitative","title":null,"axis":null,"scale":{"domain":[-35200,426000],"nice":false,"zero":false}},"y2":{"datum":0},
"color":{"condition":{"test":"datum.c>=datum.o","value":"#089981"},"value":"#f23645"}}},
{"data":{"name":"separator"},"mark":{"type":"rule","stroke":"#e0e3eb","strokeWidth":1.5},
"encoding":{"x2":{"field":"date2"},"y":{"field":"v","type":"quantitative","axis":null,"scale":{"domain":[-35200,426000],"nice":false,"zero":false}}}}
]},
{"layer":[
{"data":{"name":"rsiBand"},"mark":{"type":"rect","fill":"#7e57c2","opacity":0.1},
"encoding":{"x":null,"y":{"field":"upper","type":"quantitative","title":null,
"axis":{"orient":"right","values":[75],"format":".2f","grid":true,"gridColor":"#f2f3f6","domain":false,"ticks":false,"labelFont":"Roboto","labelFontSize":12,"labelColor":"#131722","labelPadding":9,"labelOffset":-2,"title":null},
"scale":{"domain":[24.5,840.8],"nice":false,"zero":false}},"y2":{"field":"lower"}}},
{"data":{"name":"rsiLevels"},"mark":{"type":"rule","stroke":"#787b86","strokeDash":[5,5],"strokeWidth":1},
"encoding":{"x":null,"y":{"field":"level","type":"quantitative","axis":null,"scale":{"domain":[24.5,840.8],"nice":false,"zero":false}},
"opacity":{"condition":{"test":"datum.kind==='mid'","value":0.5},"value":1}}},
{"data":{"name":"candles"},"transform":[{"filter":"datum.rsi>=69.9 && datum.date<1731600000000"}],"mark":{"type":"area","fill":"#4caf50","opacity":0.15},
"encoding":{"y":{"field":"rsi","type":"quantitative","axis":null,"scale":{"domain":[24.5,840.8],"nice":false,"zero":false}},"y2":{"datum":70}}},
{"data":{"name":"rsiMa"},"mark":{"type":"line","stroke":"#ffeb3b","strokeWidth":1.3,"clip":true},
"encoding":{"y":{"field":"rsi","type":"quantitative","axis":null,"scale":{"domain":[24.5,840.8],"nice":false,"zero":false}}}},
{"data":{"name":"candles"},"mark":{"type":"line","stroke":"#7e57c2","strokeWidth":1,"clip":true},
"encoding":{"y":{"field":"rsi","type":"quantitative","axis":null,"scale":{"domain":[24.5,840.8],"nice":false,"zero":false}}}}
],"resolve":{"axis":{"y":"independent"}}},
{"layer":[
{"data":{"name":"frame"},"mark":{"type":"rect","fill":null,"stroke":"#f0f1f4","strokeWidth":2},
"encoding":{"x2":{"field":"date2"},"y":{"field":"price","type":"quantitative","title":null,
"axis":{"orient":"right","values":[2000,2100,2200,2300,2400,2500,2600,2700,2800,2900,3000,3100,3200,3300,3400,3500,3600,3700,3800,3900,4000,4100,4200,4300],"format":",.1f","grid":true,"gridColor":"#f2f3f6","gridWidth":1,"domain":false,"ticks":false,"labelFont":"Roboto","labelFontSize":12,"labelColor":"#131722","labelPadding":9,"labelOffset":-2,"labelOverlap":false,"title":null},
"scale":{"domain":[1722.7,4350.3],"nice":false,"zero":false}},"y2":{"field":"price2"}}},
{"data":{"name":"lastPrice"},"mark":{"type":"rule","stroke":"#089981","strokeDash":[1,3],"strokeWidth":1},
"encoding":{"x":null,"y":{"field":"price","type":"quantitative","axis":null,"scale":{"domain":[1722.7,4350.3],"nice":false,"zero":false}}}},
{"data":{"name":"ema"},"mark":{"type":"line","clip":true},
"encoding":{"y":{"field":"price","type":"quantitative","axis":null,"scale":{"domain":[1722.7,4350.3],"nice":false,"zero":false}},
"color":{"field":"series","type":"nominal","legend":null,"scale":{"domain":["EMA 20","EMA 50","EMA 100","EMA 200","RSI","RSI MA"],"range":["#008000","#5b9cf6","#ff9800","#000000","#7e57c2","#ffeb3b"]}},
"strokeWidth":{"field":"series","type":"nominal","legend":null,"scale":{"type":"ordinal","domain":["EMA 20","EMA 50","EMA 100","EMA 200"],"range":[1,3,3.5,3]}},
"opacity":{"field":"series","type":"nominal","legend":null,"scale":{"type":"ordinal","domain":["EMA 20","EMA 50","EMA 100","EMA 200"],"range":[0.5,1,1,1]}},
"order":{"field":"date","type":"temporal"}}},
{"data":{"name":"candles"},"mark":{"type":"rule","strokeWidth":1,"clip":true},
"encoding":{"y":{"field":"l","type":"quantitative","axis":null,"scale":{"domain":[1722.7,4350.3],"nice":false,"zero":false}},"y2":{"field":"h"},
"color":{"condition":{"test":"datum.c>=datum.o","value":"#089981"},"value":"#f23645"}}},
{"data":{"name":"candles"},"mark":{"type":"bar","width":5,"clip":true},
"encoding":{"y":{"field":"o","type":"quantitative","axis":null,"scale":{"domain":[1722.7,4350.3],"nice":false,"zero":false}},"y2":{"field":"c"},
"color":{"condition":{"test":"datum.c>=datum.o","value":"#089981"},"value":"#f23645"}}},
{"data":{"name":"header"},"mark":{"type":"text","align":"left","font":"Roboto","fontSize":12},
"encoding":{"y":{"field":"price","type":"quantitative","axis":null,"scale":{"domain":[1722.7,4350.3],"nice":false,"zero":false}},"text":{"field":"text"},
"color":{"condition":{"test":"datum.kind==='value'","value":"#089981"},"value":"#131722"}}},
{"data":{"name":"footer"},"mark":{"type":"text","align":"left","font":"Roboto","fontSize":13.5,"color":"#131722"},
"encoding":{"y":{"field":"price","type":"quantitative","axis":null,"scale":{"domain":[1722.7,4350.3],"nice":false,"zero":false}},"text":{"field":"text"}}},
{"data":{"name":"logo"},"mark":{"type":"point","filled":true,"color":"#131722","opacity":1,"size":400,"shape":"M-1,-0.6H-0.2V0.6H-0.6V-0.2H-1Z M-0.05,-0.6A0.2,0.2 0 1,1 0.35,-0.6A0.2,0.2 0 1,1 -0.05,-0.6Z M0.45,-0.6H1L0.5,0.6H-0.05Z"},
"encoding":{"y":{"field":"price","type":"quantitative","axis":null,"scale":{"domain":[1722.7,4350.3],"nice":false,"zero":false}}}},
{"data":{"name":"symbolTag"},"mark":{"type":"rect","width":51,"height":17,"fill":"#089981","cornerRadius":1},
"encoding":{"y":{"field":"price","type":"quantitative","axis":null,"scale":{"domain":[1722.7,4350.3],"nice":false,"zero":false}}}},
{"data":{"name":"symbolTag"},"mark":{"type":"text","font":"Roboto","fontSize":12,"fontWeight":500,"color":"#ffffff"},
"encoding":{"y":{"field":"price","type":"quantitative","axis":null,"scale":{"domain":[1722.7,4350.3],"nice":false,"zero":false}},"text":{"field":"label"}}},
{"data":{"name":"lastTag"},"mark":{"type":"rect","width":59,"height":31,"fill":"#089981","yOffset":7.5},
"encoding":{"y":{"field":"price","type":"quantitative","axis":null,"scale":{"domain":[1722.7,4350.3],"nice":false,"zero":false}}}},
{"data":{"name":"priceTags"},"mark":{"type":"rect","width":53,"height":17,"yOffset":{"expr":"datum.series==='EMA 100'?-21.9:datum.series==='EMA 200'?-10.3:datum.series==='EMA 20'?-11.9:0"}},
"encoding":{"y":{"field":"price","type":"quantitative","axis":null,"scale":{"domain":[1722.7,4350.3],"nice":false,"zero":false}},
"color":{"field":"series","type":"nominal","legend":null,"scale":{"domain":["EMA 20","EMA 50","EMA 100","EMA 200","RSI","RSI MA"],"range":["#008000","#5b9cf6","#ff9800","#000000","#7e57c2","#ffeb3b"]}}}},
{"data":{"name":"priceTags"},"mark":{"type":"text","font":"Roboto","fontSize":12,"dx":1,"yOffset":{"expr":"datum.series==='EMA 100'?-21.9:datum.series==='EMA 200'?-10.3:datum.series==='EMA 20'?-11.9:0"}},
"encoding":{"y":{"field":"price","type":"quantitative","axis":null,"scale":{"domain":[1722.7,4350.3],"nice":false,"zero":false}},"text":{"field":"label"},
"color":{"condition":{"test":"datum.series==='EMA 200'||datum.series==='EMA 20'","value":"#ffffff"},"value":"#131722"}}},
{"data":{"name":"lastTag"},"mark":{"type":"text","font":"Roboto","fontSize":12,"color":"#ffffff","dx":-2},
"encoding":{"y":{"field":"price","type":"quantitative","axis":null,"scale":{"domain":[1722.7,4350.3],"nice":false,"zero":false}},"text":{"field":"label"}}},
{"data":{"name":"lastTag"},"mark":{"type":"text","font":"Roboto","fontSize":12,"color":"#a8dbd3","dx":-2,"dy":14},
"encoding":{"y":{"field":"price","type":"quantitative","axis":null,"scale":{"domain":[1722.7,4350.3],"nice":false,"zero":false}},"text":{"field":"countdown"}}}
],"resolve":{"axis":{"y":"independent"}}},
{"layer":[
{"data":{"name":"volTag"},"mark":{"type":"rect","width":46,"height":17,"fill":"#26a69a","yOffset":-9.7},
"encoding":{"y":{"field":"v","type":"quantitative","axis":null,"scale":{"domain":[-35200,426000],"nice":false,"zero":false}}}},
{"data":{"name":"volTag"},"mark":{"type":"text","font":"Roboto","fontSize":12,"color":"#ffffff","yOffset":-9.7},
"encoding":{"y":{"field":"v","type":"quantitative","axis":null,"scale":{"domain":[-35200,426000],"nice":false,"zero":false}},"text":{"field":"label"}}},
{"data":{"name":"events"},"transform":[{"filter":"datum.event==='ring'"}],"mark":{"type":"point","shape":"circle","size":300,"fill":"#ffffff","filled":false,"stroke":"#9c27b0","strokeWidth":2,"opacity":1,"fillOpacity":1},
"encoding":{"y":{"field":"v","type":"quantitative","axis":null,"scale":{"domain":[-35200,426000],"nice":false,"zero":false}}}},
{"data":{"name":"events"},"transform":[{"filter":"datum.event==='ring'"}],"mark":{"type":"point","shape":"M0.25,-0.85L-0.4,0.1H0L-0.25,0.85L0.4,-0.1H0Z","size":140,"filled":false,"stroke":"#7e3ff2","strokeWidth":1.2,"opacity":1},
"encoding":{"y":{"field":"v","type":"quantitative","axis":null,"scale":{"domain":[-35200,426000],"nice":false,"zero":false}}}},
{"data":{"name":"events"},"transform":[{"filter":"datum.event==='star'"}],"mark":{"type":"point","shape":"M0,-1L0.25,-0.25L1,0L0.25,0.25L0,1L-0.25,0.25L-1,0L-0.25,-0.25Z","size":180,"filled":true,"color":"#5b3df5","opacity":1},
"encoding":{"y":{"field":"v","type":"quantitative","axis":null,"scale":{"domain":[-35200,426000],"nice":false,"zero":false}}}},
{"data":{"name":"events"},"transform":[{"filter":"datum.event==='dot'"}],"mark":{"type":"point","shape":"circle","size":30,"filled":true,"color":"#f23645","opacity":1},
"encoding":{"y":{"field":"v","type":"quantitative","axis":null,"scale":{"domain":[-35200,426000],"nice":false,"zero":false}}}},
{"data":{"name":"events"},"transform":[{"filter":"datum.event==='flagBack'||datum.event==='flagFront'"}],"mark":{"type":"point","shape":"circle","size":330,"fill":"#ffffff","filled":false,"stroke":"#f23645","strokeWidth":2,"opacity":1,"fillOpacity":1},
"encoding":{"y":{"field":"v","type":"quantitative","axis":null,"scale":{"domain":[-35200,426000],"nice":false,"zero":false}},"order":{"field":"date","type":"temporal","sort":"descending"}}},
{"data":{"name":"events"},"transform":[{"filter":"datum.event==='flagFront'"}],"mark":{"type":"point","shape":"M-0.85,0.1H0.85V0.32H-0.85Z M-0.7,0.5H0.7V0.72H-0.7Z M0.05,-0.3H0.85V-0.08H0.05Z","size":330,"filled":true,"color":"#f23645","opacity":1},
"encoding":{"y":{"field":"v","type":"quantitative","axis":null,"scale":{"domain":[-35200,426000],"nice":false,"zero":false}}}},
{"data":{"name":"events"},"transform":[{"filter":"datum.event==='flagFront'"}],"mark":{"type":"point","shape":"M-0.7,-0.7H0V0H-0.7Z","size":330,"filled":true,"color":"#3179f5","opacity":1},
"encoding":{"y":{"field":"v","type":"quantitative","axis":null,"scale":{"domain":[-35200,426000],"nice":false,"zero":false}}}}
]},
{"layer":[
{"data":{"name":"rsiTags"},"mark":{"type":"rect","width":43,"height":17,"yOffset":{"expr":"datum.series==='RSI MA'?4.8:0.2"}},
"encoding":{"y":{"field":"rsi","type":"quantitative","axis":null,"scale":{"domain":[24.5,840.8],"nice":false,"zero":false}},
"color":{"field":"series","type":"nominal","legend":null,"scale":{"domain":["EMA 20","EMA 50","EMA 100","EMA 200","RSI","RSI MA"],"range":["#008000","#5b9cf6","#ff9800","#000000","#7e57c2","#ffeb3b"]}}}},
{"data":{"name":"rsiTags"},"mark":{"type":"text","font":"Roboto","fontSize":12,"yOffset":{"expr":"datum.series==='RSI MA'?4.8:0.2"}},
"encoding":{"y":{"field":"rsi","type":"quantitative","axis":null,"scale":{"domain":[24.5,840.8],"nice":false,"zero":false}},"text":{"field":"label"},
"color":{"condition":{"test":"datum.series==='RSI'","value":"#ffffff"},"value":"#131722"}}}
]}
],
"resolve":{"scale":{"y":"independent"},"axis":{"y":"independent"}}
}
